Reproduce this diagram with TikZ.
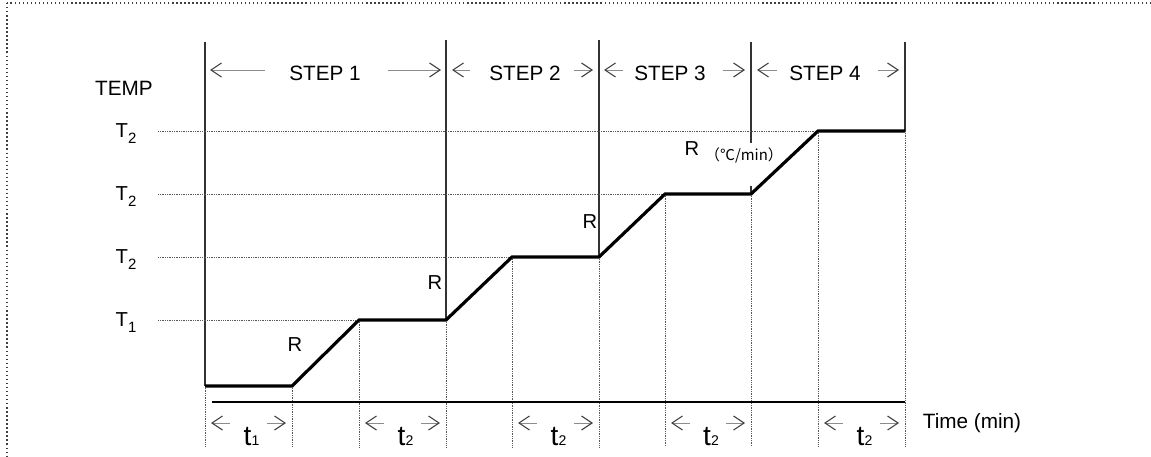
\documentclass[tikz,border=0pt]{standalone}
\usepackage{fontspec}
\setmainfont{Liberation Sans}
\newfontfamily\cjkfont{Noto Sans CJK JP}
\usetikzlibrary{arrows.meta, calc}

% lowered small index: #1 = drop, #2 = size, #3 = digit
\newcommand{\lowidx}[3]{\raisebox{-#1}{\fontsize{#2}{#2}\selectfont #3}}

\begin{document}
\begin{tikzpicture}[
    x=0.02cm, y=-0.02cm,
    frame/.style={draw=black!75, line width=0.8pt, dash pattern=on 0.8pt off 1.5pt},
    guide/.style={draw=black!65, line width=0.4pt, dash pattern=on 0.5pt off 0.5pt},
    stepline/.style={draw=black!80, line width=0.6pt},
    profile/.style={line width=1.8pt, line join=miter},
    span/.style={draw=black!45, line width=0.5pt,
      -{Straight Barb[length=6pt, width=8pt, line width=0.6pt, color=black!75]}},
    steplabel/.style={inner sep=0pt, font=\fontsize{11.8}{14}\selectfont},
    level/.style={inner sep=0pt, font=\fontsize{11.5}{13}\selectfont},
    rate/.style={inner sep=0pt, font=\fontsize{11.5}{13}\selectfont},
    dur/.style={inner sep=0pt, font=\fontsize{16}{18}\selectfont},
  ]

  % ---- page and frame ----
  \clip (0,0) rectangle (1151,456);
  \draw[frame] (7,3) rectangle (1170,475);

  % ---- temperature profile corners ----
  \coordinate (p0) at (205,386);
  \coordinate (p1) at (292,386);
  \coordinate (p2) at (359,320);
  \coordinate (p3) at (446,320);
  \coordinate (p4) at (512,257);
  \coordinate (p5) at (599,257);
  \coordinate (p6) at (665,194);
  \coordinate (p7) at (751,194);
  \coordinate (p8) at (818,131);
  \coordinate (p9) at (905,131);

  % ---- step boundaries ----
  \coordinate (v0) at (205,42);
  \coordinate (v1) at (446,40);
  \coordinate (v2) at (599,40);
  \coordinate (v3) at (751,42);
  \coordinate (v3a) at (751,143);
  \coordinate (v3b) at (751,186);
  \coordinate (v4) at (905,42);
  \draw[stepline] (v0) -- (p0);
  \draw[stepline] (v1) -- (p3);
  \draw[stepline] (v2) -- (p5);
  \draw[stepline] (v3) -- (v3a);
  \draw[stepline] (v3b) -- (p7);
  \draw[stepline] (v4) -- (p9);

  % ---- axis labels and levels ----
  \node[steplabel] (temp) at (124,88) {TEMP};
  \node[level, anchor=base] (lvA) at (126,137) {T\lowidx{3.6pt}{8.5}{2}};
  \node[level, anchor=base] (lvB) at (126,200) {T\lowidx{3.6pt}{8.5}{2}};
  \node[level, anchor=base] (lvC) at (126,263) {T\lowidx{3.6pt}{8.5}{2}};
  \node[level, anchor=base] (lvD) at (126,326) {T\lowidx{3.6pt}{8.5}{1}};

  \coordinate (gA) at (158,131);
  \coordinate (gB) at (158,194);
  \coordinate (gC) at (158,257);
  \coordinate (gD) at (158,320);
  \draw[guide] (gA) -- (p8);
  \draw[guide] (gB) -- (p6);
  \draw[guide] (gC) -- (p4);
  \draw[guide] (gD) -- (p2);

  % ---- drops to the time axis ----
  \coordinate (base) at (0,447);
  \foreach \p in {p0,p1,p2,p3,p4,p5,p6,p7,p8,p9}
    \draw[guide] (\p) -- (\p |- base);

  % ---- profile ----
  \draw[profile] (p0) -- (p1) -- (p2) -- (p3) -- (p4) -- (p5)
    -- (p6) -- (p7) -- (p8) -- (p9);

  \node[rate] (r1) at (295,345) {R};
  \node[rate] (r2) at (435,283) {R};
  \node[rate] (r3) at (590,222) {R};
  \node[rate] (r4) at (692,149) {R};
  \node[inner sep=0pt, font=\fontsize{8.5}{10}\selectfont] (unit) at (744,155)
    {\cjkfont （℃/min）};

  % ---- step headers ----
  \node[steplabel] (step1) at (325,73) {STEP 1};
  \node[steplabel] (step2) at (525,73) {STEP 2};
  \node[steplabel] (step3) at (670,73) {STEP 3};
  \node[steplabel] (step4) at (825,73) {STEP 4};

  \draw[span] ($(v0 |- step1)+(60,-3)$) -- ($(v0 |- step1)+(5,-3)$);
  \draw[span] ($(v1 |- step1)+(-58,-3)$) -- ($(v1 |- step1)+(-5,-3)$);
  \draw[span] ($(v1 |- step2)+(24,-3)$) -- ($(v1 |- step2)+(6,-3)$);
  \draw[span] ($(v2 |- step2)+(-25,-3)$) -- ($(v2 |- step2)+(-6,-3)$);
  \draw[span] ($(v2 |- step3)+(24,-3)$) -- ($(v2 |- step3)+(5,-3)$);
  \draw[span] ($(v3 |- step3)+(-28,-3)$) -- ($(v3 |- step3)+(-6,-3)$);
  \draw[span] ($(v3 |- step4)+(26,-3)$) -- ($(v3 |- step4)+(6,-3)$);
  \draw[span] ($(v4 |- step4)+(-27,-3)$) -- ($(v4 |- step4)+(-6,-3)$);

  % ---- time axis and durations ----
  \coordinate (ax0) at (212,402);
  \coordinate (ax1) at (905,402);
  \draw[line width=0.6pt] (ax0) -- (ax1);
  \node[steplabel] (time) at (972,423) {Time (min)};

  \coordinate (arw) at (0,423);
  \coordinate (dtx) at (0,445);
  \foreach \a/\b/\k [count=\i] in {p0/p1/1, p2/p3/2, p4/p5/2, p6/p7/2, p8/p9/2} {
    \draw[span] ($(\a |- arw)+(25,0)$) -- ($(\a |- arw)+(6,0)$);
    \draw[span] ($(\b |- arw)+(-25,0)$) -- ($(\b |- arw)+(-6,0)$);
    \node[dur, anchor=base] (dur\i) at ($(\a |- dtx)!0.5!(\b |- dtx)+(3,0)$)
      {t\lowidx{0.3pt}{8}{\k}};
  }

\end{tikzpicture}
\end{document}
